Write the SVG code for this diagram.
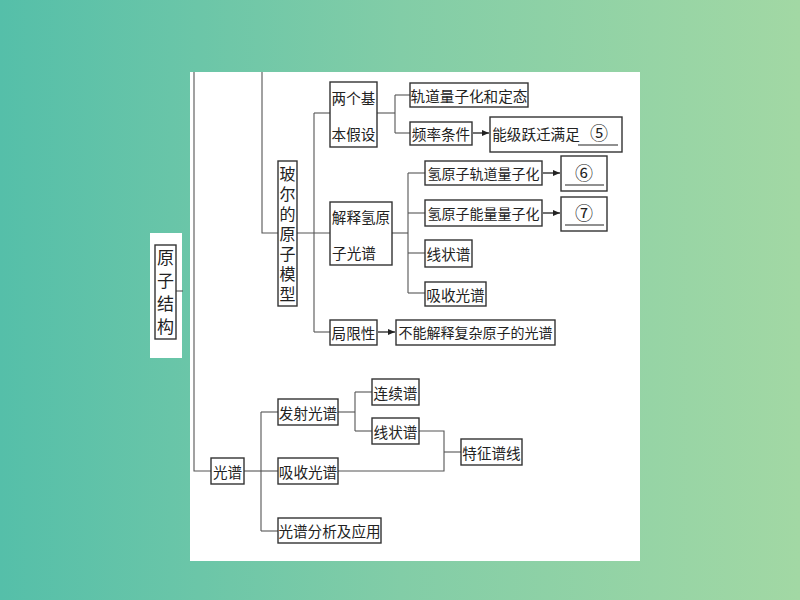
<svg xmlns="http://www.w3.org/2000/svg" width="800" height="600" viewBox="0 0 800 600">
<defs>
<linearGradient id="bg" x1="0" y1="0" x2="1" y2="0">
<stop offset="0" stop-color="#55bfa9"/>
<stop offset="0.5" stop-color="#82cda7"/>
<stop offset="1" stop-color="#a2d8a4"/>
</linearGradient>
<marker id="ar" markerWidth="8" markerHeight="8" refX="7" refY="4" orient="auto" markerUnits="userSpaceOnUse">
<path d="M0,1 L7,4 L0,7 Z" fill="#222"/>
</marker>
<style>
.box{fill:#fff;stroke:#333;stroke-width:1.4}
.ln{fill:none;stroke:#555;stroke-width:1.1}
.arr{fill:none;stroke:#222;stroke-width:1.3;marker-end:url(#ar)}
text{font-family:"Noto Sans CJK SC","Noto Sans",sans-serif;font-size:14.6px;fill:#222;dominant-baseline:central;text-anchor:middle}
.s{font-size:14px}
.v{font-size:17px;writing-mode:vertical-rl;letter-spacing:6px}
.vs{font-size:16px;writing-mode:vertical-rl;letter-spacing:4px}
.n{font-size:18px}
.ul{stroke:#222;stroke-width:1.2}
</style>
</defs>
<rect x="0" y="0" width="800" height="600" fill="url(#bg)"/>
<rect x="190" y="72" width="450" height="489" fill="#fff"/>
<rect x="150" y="233" width="32" height="125" fill="#fff"/>

<g id="connectors">
<path class="ln" d="M176,291 H183"/>
<path class="ln" d="M194,72 V471 H211"/>
<path class="ln" d="M262,72 V233 H278"/>
<path class="ln" d="M297,233 H330"/>
<path class="ln" d="M314,113 V332"/>
<path class="ln" d="M314,113 H330"/>
<path class="ln" d="M314,332 H330"/>
<path class="ln" d="M377,113 H395"/>
<path class="ln" d="M395,95 V133"/>
<path class="ln" d="M395,95 H410"/>
<path class="ln" d="M395,133 H410"/>
<path class="arr" d="M473,133 H489"/>
<path class="ln" d="M392,233 H408"/>
<path class="ln" d="M408,173 V293"/>
<path class="ln" d="M408,173 H425"/>
<path class="ln" d="M408,213 H425"/>
<path class="ln" d="M408,253 H425"/>
<path class="ln" d="M408,293 H425"/>
<path class="arr" d="M543,173 H560"/>
<path class="arr" d="M543,213 H560"/>
<path class="arr" d="M378,332 H395"/>
<path class="ln" d="M244,471 H261"/>
<path class="ln" d="M261,412 V531"/>
<path class="ln" d="M261,412 H278"/>
<path class="ln" d="M261,471 H278"/>
<path class="ln" d="M261,531 H278"/>
<path class="ln" d="M338,412 H355"/>
<path class="ln" d="M355,392 V431"/>
<path class="ln" d="M355,392 H372"/>
<path class="ln" d="M355,431 H372"/>
<path class="ln" d="M419,431 H444 V471 H338"/>
<path class="ln" d="M444,452 H461"/>
</g>

<g id="n-yuanzijiegou">
<rect class="box" x="155" y="245" width="21" height="94"/>
<text class="v" x="165.5" y="295">原子结构</text>
</g>

<g id="n-boer">
<rect class="box" x="278" y="161" width="19" height="145"/>
<text class="vs" x="287.5" y="236">玻尔的原子模型</text>
</g>

<g id="n-liangge">
<rect class="box" x="330" y="82" width="47" height="65"/>
<text x="353.5" y="97">两个基</text>
<text x="353.5" y="133">本假设</text>
</g>

<g id="n-guidao">
<rect class="box" x="410" y="83" width="118" height="24"/>
<text x="469" y="95">轨道量子化和定态</text>
</g>

<g id="n-pinlv">
<rect class="box" x="410" y="122" width="62" height="23"/>
<text x="441" y="133.5">频率条件</text>
</g>

<g id="n-nengji">
<rect class="box" x="490" y="117" width="132" height="35"/>
<text x="536" y="133">能级跃迁满足</text>
<line class="ul" x1="578" y1="145" x2="618" y2="145"/>
<text class="n" x="599" y="132">⑤</text>
</g>

<g id="n-jieshi">
<rect class="box" x="330" y="202" width="62" height="63"/>
<text x="361" y="216">解释氢原</text>
<text x="354" y="252">子光谱</text>
</g>

<g id="n-qingguidao">
<rect class="box" x="425" y="161" width="117" height="24"/>
<text class="s" x="483.5" y="173">氢原子轨道量子化</text>
</g>

<g id="n-6">
<rect class="box" x="561" y="156" width="46" height="35"/>
<line class="ul" x1="565" y1="185" x2="604" y2="185"/>
<text class="n" x="584" y="172">⑥</text>
</g>

<g id="n-qingnengliang">
<rect class="box" x="425" y="200" width="117" height="26"/>
<text class="s" x="483.5" y="213">氢原子能量量子化</text>
</g>

<g id="n-7">
<rect class="box" x="561" y="197" width="46" height="34"/>
<line class="ul" x1="565" y1="225" x2="604" y2="225"/>
<text class="n" x="584" y="212">⑦</text>
</g>

<g id="n-xianzhuang1">
<rect class="box" x="425" y="240" width="47" height="27"/>
<text x="448.5" y="253">线状谱</text>
</g>

<g id="n-xishou1">
<rect class="box" x="425" y="282" width="61" height="24"/>
<text x="455.5" y="294">吸收光谱</text>
</g>

<g id="n-juxian">
<rect class="box" x="330" y="320" width="47" height="25"/>
<text x="353.5" y="332">局限性</text>
</g>

<g id="n-buneng">
<rect class="box" x="396" y="320" width="159" height="25"/>
<text class="s" x="475.5" y="332">不能解释复杂原子的光谱</text>
</g>

<g id="n-guangpu">
<rect class="box" x="211" y="458" width="33" height="26"/>
<text x="227.5" y="471">光谱</text>
</g>

<g id="n-fashe">
<rect class="box" x="278" y="399" width="60" height="26"/>
<text x="308" y="412">发射光谱</text>
</g>

<g id="n-xishou2">
<rect class="box" x="278" y="458" width="60" height="26"/>
<text x="308" y="471">吸收光谱</text>
</g>

<g id="n-fenxi">
<rect class="box" x="278" y="518" width="103" height="25"/>
<text x="329.5" y="530.5">光谱分析及应用</text>
</g>

<g id="n-lianxu">
<rect class="box" x="372" y="379" width="47" height="26"/>
<text x="395.5" y="392">连续谱</text>
</g>

<g id="n-xianzhuang2">
<rect class="box" x="372" y="418" width="47" height="26"/>
<text x="395.5" y="431">线状谱</text>
</g>

<g id="n-tezheng">
<rect class="box" x="461" y="439" width="61" height="26"/>
<text x="491.5" y="452">特征谱线</text>
</g>
</svg>
